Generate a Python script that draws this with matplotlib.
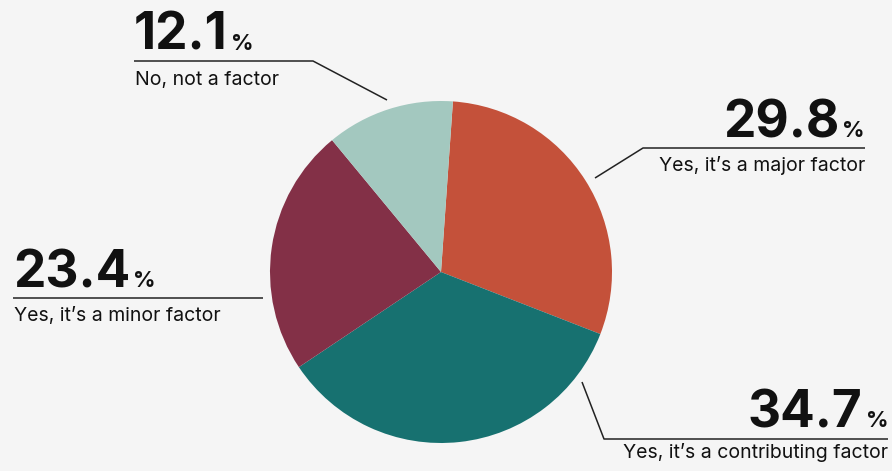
import numpy as np
import matplotlib.pyplot as plt

# survey shares, clockwise from the top
labels = ["Yes, it\u2019s a major factor", "Yes, it\u2019s a contributing factor",
          "Yes, it\u2019s a minor factor", "No, not a factor"]
values = [29.8, 34.7, 23.4, 12.1]
colors = ["#c4513a", "#177170", "#833047", "#a3c8bf"]

W, H = 892, 471
fig = plt.figure(figsize=(W / 100, H / 100), dpi=100, facecolor="#f5f5f5")
ax = fig.add_axes([0, 0, 1, 1])
ax.set_facecolor("#f5f5f5")
ax.axis("off")

cx, cy, r = 441, H - 272, 171
ax.pie(values, colors=colors, startangle=86, counterclock=False,
       center=(cx, cy), radius=r, wedgeprops=dict(linewidth=0))
ax.set_xlim(0, W)
ax.set_ylim(0, H)
ax.set_aspect("equal")

plt.rcParams['font.family'] = ['Inter', 'DejaVu Sans']

# callout layout: leader line points (image px), text x, number baseline, label baseline, alignment
callouts = {
    "No, not a factor": dict(line=[(387, 100), (313, 61), (134, 61)], x=134, ynum=50, ylab=85, ha="left"),
    "Yes, it\u2019s a major factor": dict(line=[(595, 178), (643, 148), (865, 148)], x=865, ynum=137, ylab=171, ha="right"),
    "Yes, it\u2019s a minor factor": dict(line=[(263, 298), (13, 298)], x=13, ynum=287, ylab=321, ha="left"),
    "Yes, it\u2019s a contributing factor": dict(line=[(582, 382), (604, 439), (888, 439)], x=888, ynum=427, ylab=458, ha="right"),
}

fig.canvas.draw()
for lab, val in zip(labels, values):
    c = callouts[lab]
    xs = [p[0] for p in c["line"]]
    ys = [H - p[1] for p in c["line"]]
    ax.plot(xs, ys, color="#222222", lw=1.1, solid_capstyle="butt")

    ax.text(c["x"] + (1 if c["ha"] == "left" else 0), H - c["ylab"], lab, ha=c["ha"], va="baseline",
            fontsize=14, color="#111111")

    num = ax.text(c["x"], H - c["ynum"], f"{val:.1f}", fontsize=37, fontweight="bold",
                  color="#111111", va="baseline", ha="left")
    pct = ax.text(c["x"], H - c["ynum"], "%", fontsize=16, fontweight="bold",
                  color="#111111", va="baseline", ha="left")
    num_w = num.get_window_extent().width
    pct_w = pct.get_window_extent().width
    gap = 3
    x0 = c["x"] - pct_w - gap - num_w if c["ha"] == "right" else c["x"]
    num.set_x(x0)
    pct.set_x(x0 + num_w + gap)

fig.savefig("out.png", dpi=100, facecolor=fig.get_facecolor())
